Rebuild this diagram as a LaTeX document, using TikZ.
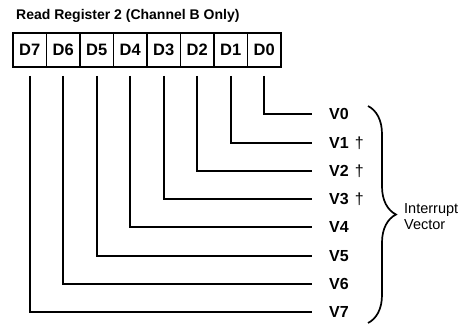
\documentclass[tikz,border=0pt]{standalone}
\usepackage{fontspec}
\setmainfont{Liberation Sans}
\usetikzlibrary{decorations.pathreplacing}

\begin{document}
\begin{tikzpicture}[x=1pt,y=-1pt,
  bitbox/.style={draw, line width=1.8pt, minimum width=33.5pt, minimum height=33.5pt,
    inner sep=0pt, outer sep=0pt, font=\fontsize{16.5}{16.5}\selectfont\bfseries},
  vlabel/.style={anchor=west, inner sep=0pt, text depth=0pt,
    font=\fontsize{16}{16}\selectfont\bfseries},
  wire/.style={line width=1.8pt, shorten <=9pt, shorten >=17pt}]

\useasboundingbox (0,0) rectangle (473,325);

\node[anchor=base west, inner sep=0pt, font=\fontsize{14}{14}\selectfont\bfseries]
  (title) at (16,19) {Read Register 2 (Channel B Only)};

% register bits
\foreach \b [count=\k from 0] in {7,...,0}
  \node[bitbox] (d\b) at (13+16.75+33.5*\k,50) {D\b};

% vector bits
\node[vlabel] (v0) at (329,114) {V0};
\node[vlabel] (v1) at (329,143) {V1\hspace{6pt}\textmd{\textdagger}};
\node[vlabel] (v2) at (329,171) {V2\hspace{6pt}\textmd{\textdagger}};
\node[vlabel] (v3) at (329,199) {V3\hspace{6pt}\textmd{\textdagger}};
\node[vlabel] (v4) at (329,227) {V4};
\node[vlabel] (v5) at (329,256) {V5};
\node[vlabel] (v6) at (329,284) {V6};
\node[vlabel] (v7) at (329,312) {V7};

\foreach \b in {0,...,7}
  \draw[wire] (d\b.south) |- (v\b.west);

\coordinate (btop) at (368,106);
\coordinate (bbot) at (368,323);
\draw[line width=1.7pt, decorate, decoration={brace, amplitude=28pt}] (btop) -- (bbot);

\node[anchor=west, align=left, inner sep=0pt, font=\fontsize{14.5}{16}\selectfont]
  (iv) at (404,217) {Interrupt\\Vector};

\end{tikzpicture}
\end{document}
